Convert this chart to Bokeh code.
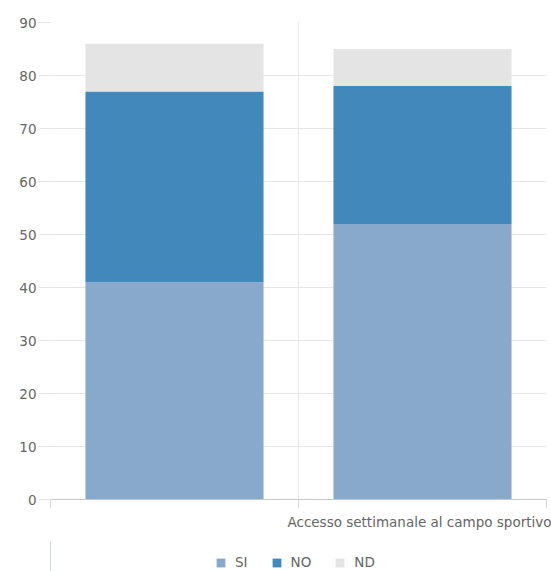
from bokeh.plotting import figure
from bokeh.layouts import column
from bokeh.models import Range1d, FixedTicker, Legend, LegendItem, ColumnDataSource
from bokeh.embed import file_html
from bokeh.resources import INLINE

# ---- data ----
categories = ["", "Accesso settimanale al campo sportivo"]
si = [41, 52]
no = [36, 26]
nd = [9, 7]
series_names = ["SI", "NO", "ND"]
series_colors = ["#88a8cc", "#4288ba", "#e4e4e4"]
y_ticks = [0, 10, 20, 30, 40, 50, 60, 70, 80, 90]

xs = [i + 0.5 for i in range(len(categories))]
source = ColumnDataSource(dict(x=xs, SI=si, NO=no, ND=nd))

FONT = "DejaVu Sans"
TXT = "#666666"
FS = "13.5px"

p = figure(width=551, height=541,
           output_backend="svg", toolbar_location=None,
           x_range=Range1d(0, 2), y_range=Range1d(0, 90),
           min_border_left=50, min_border_right=5, min_border_top=22,
           min_border_bottom=42)
p.outline_line_color = None
p.background_fill_color = "white"
p.border_fill_color = "white"

p.vbar_stack(series_names, x="x", width=0.718, color=series_colors,
             line_color=None, source=source)

# y axis
p.yaxis.ticker = FixedTicker(ticks=y_ticks)
p.yaxis.axis_line_color = None
p.yaxis.major_tick_line_color = "#e6e6e6"
p.yaxis.major_tick_out = 12
p.yaxis.major_tick_in = 0
p.yaxis.minor_tick_line_color = None
p.yaxis.major_label_standoff = 2
p.yaxis.major_label_text_font = FONT
p.yaxis.major_label_text_font_size = FS
p.yaxis.major_label_text_color = TXT

# x axis
p.xaxis.ticker = FixedTicker(ticks=xs, minor_ticks=[0, 1, 2])
p.xaxis.major_label_overrides = {x: c for x, c in zip(xs, categories)}
p.xaxis.axis_line_color = "#c8c8c8"
p.xaxis.major_tick_line_color = None
p.xaxis.major_tick_out = 0
p.xaxis.major_tick_in = 0
p.xaxis.minor_tick_line_color = "#d8d8d8"
p.xaxis.minor_tick_out = 9
p.xaxis.minor_tick_in = 0
p.xaxis.major_label_standoff = 5
p.xaxis.major_label_text_font = FONT
p.xaxis.major_label_text_font_size = FS
p.xaxis.major_label_text_color = TXT

# grids
p.ygrid.ticker = FixedTicker(ticks=y_ticks)
p.ygrid.grid_line_color = "#e6e6e6"
p.xgrid.ticker = FixedTicker(ticks=[0, 1, 2])
p.xgrid.grid_line_color = "#e6e6e6"

# legend strip below the chart (its swatch renderers lie outside its visible range)
p2 = figure(width=551, height=30, output_backend="svg", toolbar_location=None,
            x_range=Range1d(10, 11), y_range=Range1d(0, 1),
            x_axis_location=None, y_axis_location=None,
            min_border_left=50, min_border_right=5, min_border_top=0,
            min_border_bottom=0)
p2.outline_line_color = None
p2.xgrid.grid_line_color = None
p2.ygrid.grid_line_color = None
p2.xgrid.visible = False
p2.ygrid.visible = False
p2.background_fill_color = "white"
p2.border_fill_color = "white"
leg_renderers = p2.vbar_stack(series_names, x="x", width=0.718, color=series_colors,
                              line_color=None, source=source)

legend = Legend(items=[LegendItem(label=n, renderers=[r]) for n, r in zip(series_names, leg_renderers)],
                orientation="horizontal", location=(165, 1),
                glyph_width=11, glyph_height=11, label_standoff=9, spacing=23,
                label_width=0, label_height=0, padding=0, margin=0,
                border_line_color=None, background_fill_alpha=0,
                label_text_font=FONT, label_text_font_size=FS,
                label_text_color=TXT)
p2.add_layout(legend, "center")

layout = column(p, p2, spacing=0)
open("out.html", "w").write(file_html(layout, INLINE))
